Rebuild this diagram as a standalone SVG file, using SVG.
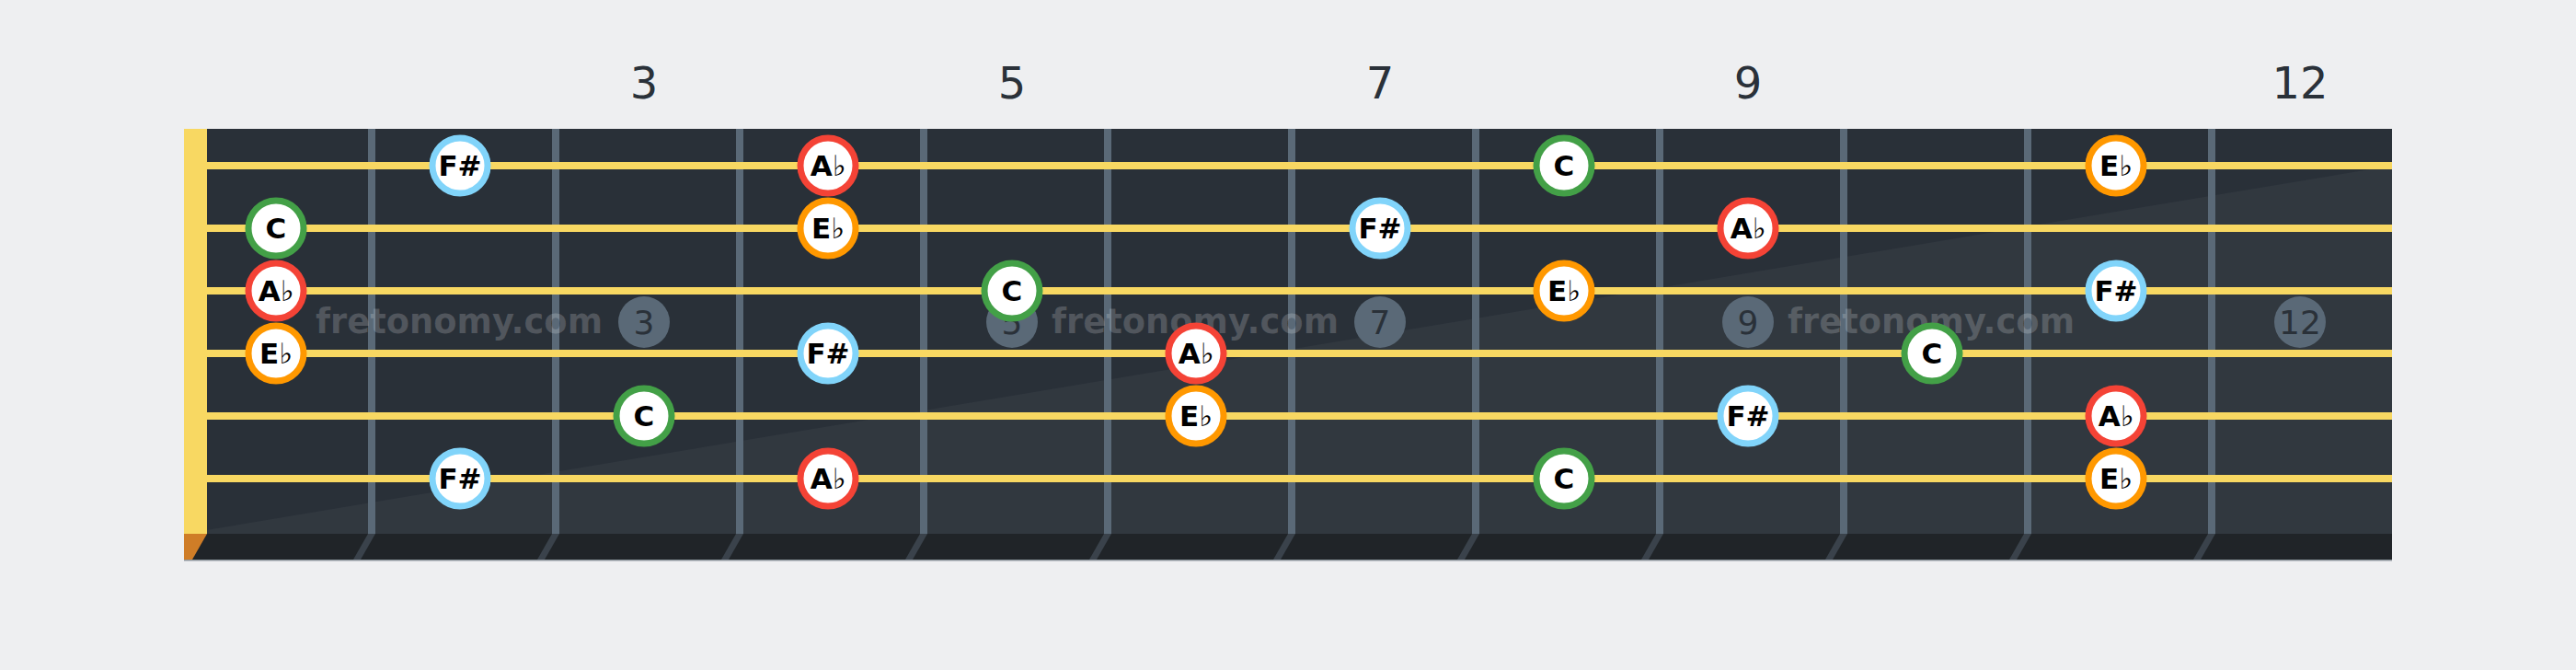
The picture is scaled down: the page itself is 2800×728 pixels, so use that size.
<svg xmlns="http://www.w3.org/2000/svg" width="2800" height="728" viewBox="0 0 2800 728">
<defs>
<style>
.fret{fill:#5a6977}
.fbev{fill:#3a424b}
.str{fill:#f8d862}
.inlay{fill:#5a6977}
.inum{font-family:"DejaVu Sans",sans-serif;font-size:36px;fill:#2a3139;text-anchor:middle}
.top{font-family:"DejaVu Sans",sans-serif;font-size:48px;fill:#2a3139;text-anchor:middle}
.wm{font-family:"DejaVu Sans",sans-serif;font-weight:bold;font-size:37px;fill:#ffffff;fill-opacity:0.19}
.n circle{fill:#ffffff;stroke-width:7}
.n text{font-family:"DejaVu Sans",sans-serif;font-weight:bold;font-size:31px;fill:#000000;text-anchor:middle}
.n tspan{font-weight:normal}
.C circle{stroke:#43a047}
.Ab circle{stroke:#f44336}
.Eb circle{stroke:#ff9800}
.Fs circle{stroke:#81d4fa}
</style>
</defs>
<rect x="0" y="0" width="2800" height="728" fill="#eeeff1"/>
<g id="board">
<rect x="200" y="140" width="2400" height="440" fill="#293038"/>
<polygon points="200,580 2600,180 2600,580" fill="#ffffff" fill-opacity="0.04"/>
<rect x="200" y="580" width="2400" height="28" fill="#202428"/>
<rect x="200" y="608" width="2400" height="1.5" fill="#8d969e"/>
<rect x="200" y="140" width="25" height="440" fill="#f8d862"/>
<polygon points="200,580 225,580 209,608 200,608" fill="#cf7d27"/>
</g>
<g id="frets">
<rect class="fret" x="400" y="140" width="8" height="440"/>
<rect class="fret" x="600" y="140" width="8" height="440"/>
<rect class="fret" x="800" y="140" width="8" height="440"/>
<rect class="fret" x="1000" y="140" width="8" height="440"/>
<rect class="fret" x="1200" y="140" width="8" height="440"/>
<rect class="fret" x="1400" y="140" width="8" height="440"/>
<rect class="fret" x="1600" y="140" width="8" height="440"/>
<rect class="fret" x="1800" y="140" width="8" height="440"/>
<rect class="fret" x="2000" y="140" width="8" height="440"/>
<rect class="fret" x="2200" y="140" width="8" height="440"/>
<rect class="fret" x="2400" y="140" width="8" height="440"/>
<polygon class="fbev" points="400,580 408,580 392,608 384,608"/>
<polygon class="fbev" points="600,580 608,580 592,608 584,608"/>
<polygon class="fbev" points="800,580 808,580 792,608 784,608"/>
<polygon class="fbev" points="1000,580 1008,580 992,608 984,608"/>
<polygon class="fbev" points="1200,580 1208,580 1192,608 1184,608"/>
<polygon class="fbev" points="1400,580 1408,580 1392,608 1384,608"/>
<polygon class="fbev" points="1600,580 1608,580 1592,608 1584,608"/>
<polygon class="fbev" points="1800,580 1808,580 1792,608 1784,608"/>
<polygon class="fbev" points="2000,580 2008,580 1992,608 1984,608"/>
<polygon class="fbev" points="2200,580 2208,580 2192,608 2184,608"/>
<polygon class="fbev" points="2400,580 2408,580 2392,608 2384,608"/>
</g>
<g id="strings">
<rect class="str" x="225" y="176" width="2375" height="8"/>
<rect class="str" x="225" y="244" width="2375" height="8"/>
<rect class="str" x="225" y="312" width="2375" height="8"/>
<rect class="str" x="225" y="380" width="2375" height="8"/>
<rect class="str" x="225" y="448" width="2375" height="8"/>
<rect class="str" x="225" y="516" width="2375" height="8"/>
</g>
<g id="inlays">
<circle class="inlay" cx="700" cy="350" r="28"/><text class="inum" x="700" y="363">3</text>
<circle class="inlay" cx="1100" cy="350" r="28"/><text class="inum" x="1100" y="363">5</text>
<circle class="inlay" cx="1500" cy="350" r="28"/><text class="inum" x="1500" y="363">7</text>
<circle class="inlay" cx="1900" cy="350" r="28"/><text class="inum" x="1900" y="363">9</text>
<circle class="inlay" cx="2500" cy="350" r="28"/><text class="inum" x="2500" y="363">12</text>
</g>
<g id="fret-numbers">
<text class="top" x="700" y="107">3</text>
<text class="top" x="1100" y="107">5</text>
<text class="top" x="1500" y="107">7</text>
<text class="top" x="1900" y="107">9</text>
<text class="top" x="2500" y="107">12</text>
</g>
<g id="watermarks">
<text class="wm" x="343" y="362" textLength="312" lengthAdjust="spacingAndGlyphs">fretonomy.com</text>
<text class="wm" x="1143" y="362" textLength="312" lengthAdjust="spacingAndGlyphs">fretonomy.com</text>
<text class="wm" x="1943" y="362" textLength="312" lengthAdjust="spacingAndGlyphs">fretonomy.com</text>
</g>
<g id="notes">
<g id="s1-f2" class="n Fs"><circle cx="500" cy="180" r="30"/><text x="500" y="191">F#</text></g>
<g id="s1-f4" class="n Ab"><circle cx="900" cy="180" r="30"/><text x="900" y="191">A<tspan>♭</tspan></text></g>
<g id="s1-f8" class="n C"><circle cx="1700" cy="180" r="30"/><text x="1700" y="191">C</text></g>
<g id="s1-f11" class="n Eb"><circle cx="2300" cy="180" r="30"/><text x="2300" y="191">E<tspan>♭</tspan></text></g>
<g id="s2-f1" class="n C"><circle cx="300" cy="248" r="30"/><text x="300" y="259">C</text></g>
<g id="s2-f4" class="n Eb"><circle cx="900" cy="248" r="30"/><text x="900" y="259">E<tspan>♭</tspan></text></g>
<g id="s2-f7" class="n Fs"><circle cx="1500" cy="248" r="30"/><text x="1500" y="259">F#</text></g>
<g id="s2-f9" class="n Ab"><circle cx="1900" cy="248" r="30"/><text x="1900" y="259">A<tspan>♭</tspan></text></g>
<g id="s3-f1" class="n Ab"><circle cx="300" cy="316" r="30"/><text x="300" y="327">A<tspan>♭</tspan></text></g>
<g id="s3-f5" class="n C"><circle cx="1100" cy="316" r="30"/><text x="1100" y="327">C</text></g>
<g id="s3-f8" class="n Eb"><circle cx="1700" cy="316" r="30"/><text x="1700" y="327">E<tspan>♭</tspan></text></g>
<g id="s3-f11" class="n Fs"><circle cx="2300" cy="316" r="30"/><text x="2300" y="327">F#</text></g>
<g id="s4-f1" class="n Eb"><circle cx="300" cy="384" r="30"/><text x="300" y="395">E<tspan>♭</tspan></text></g>
<g id="s4-f4" class="n Fs"><circle cx="900" cy="384" r="30"/><text x="900" y="395">F#</text></g>
<g id="s4-f6" class="n Ab"><circle cx="1300" cy="384" r="30"/><text x="1300" y="395">A<tspan>♭</tspan></text></g>
<g id="s4-f10" class="n C"><circle cx="2100" cy="384" r="30"/><text x="2100" y="395">C</text></g>
<g id="s5-f3" class="n C"><circle cx="700" cy="452" r="30"/><text x="700" y="463">C</text></g>
<g id="s5-f6" class="n Eb"><circle cx="1300" cy="452" r="30"/><text x="1300" y="463">E<tspan>♭</tspan></text></g>
<g id="s5-f9" class="n Fs"><circle cx="1900" cy="452" r="30"/><text x="1900" y="463">F#</text></g>
<g id="s5-f11" class="n Ab"><circle cx="2300" cy="452" r="30"/><text x="2300" y="463">A<tspan>♭</tspan></text></g>
<g id="s6-f2" class="n Fs"><circle cx="500" cy="520" r="30"/><text x="500" y="531">F#</text></g>
<g id="s6-f4" class="n Ab"><circle cx="900" cy="520" r="30"/><text x="900" y="531">A<tspan>♭</tspan></text></g>
<g id="s6-f8" class="n C"><circle cx="1700" cy="520" r="30"/><text x="1700" y="531">C</text></g>
<g id="s6-f11" class="n Eb"><circle cx="2300" cy="520" r="30"/><text x="2300" y="531">E<tspan>♭</tspan></text></g>
</g>
</svg>
